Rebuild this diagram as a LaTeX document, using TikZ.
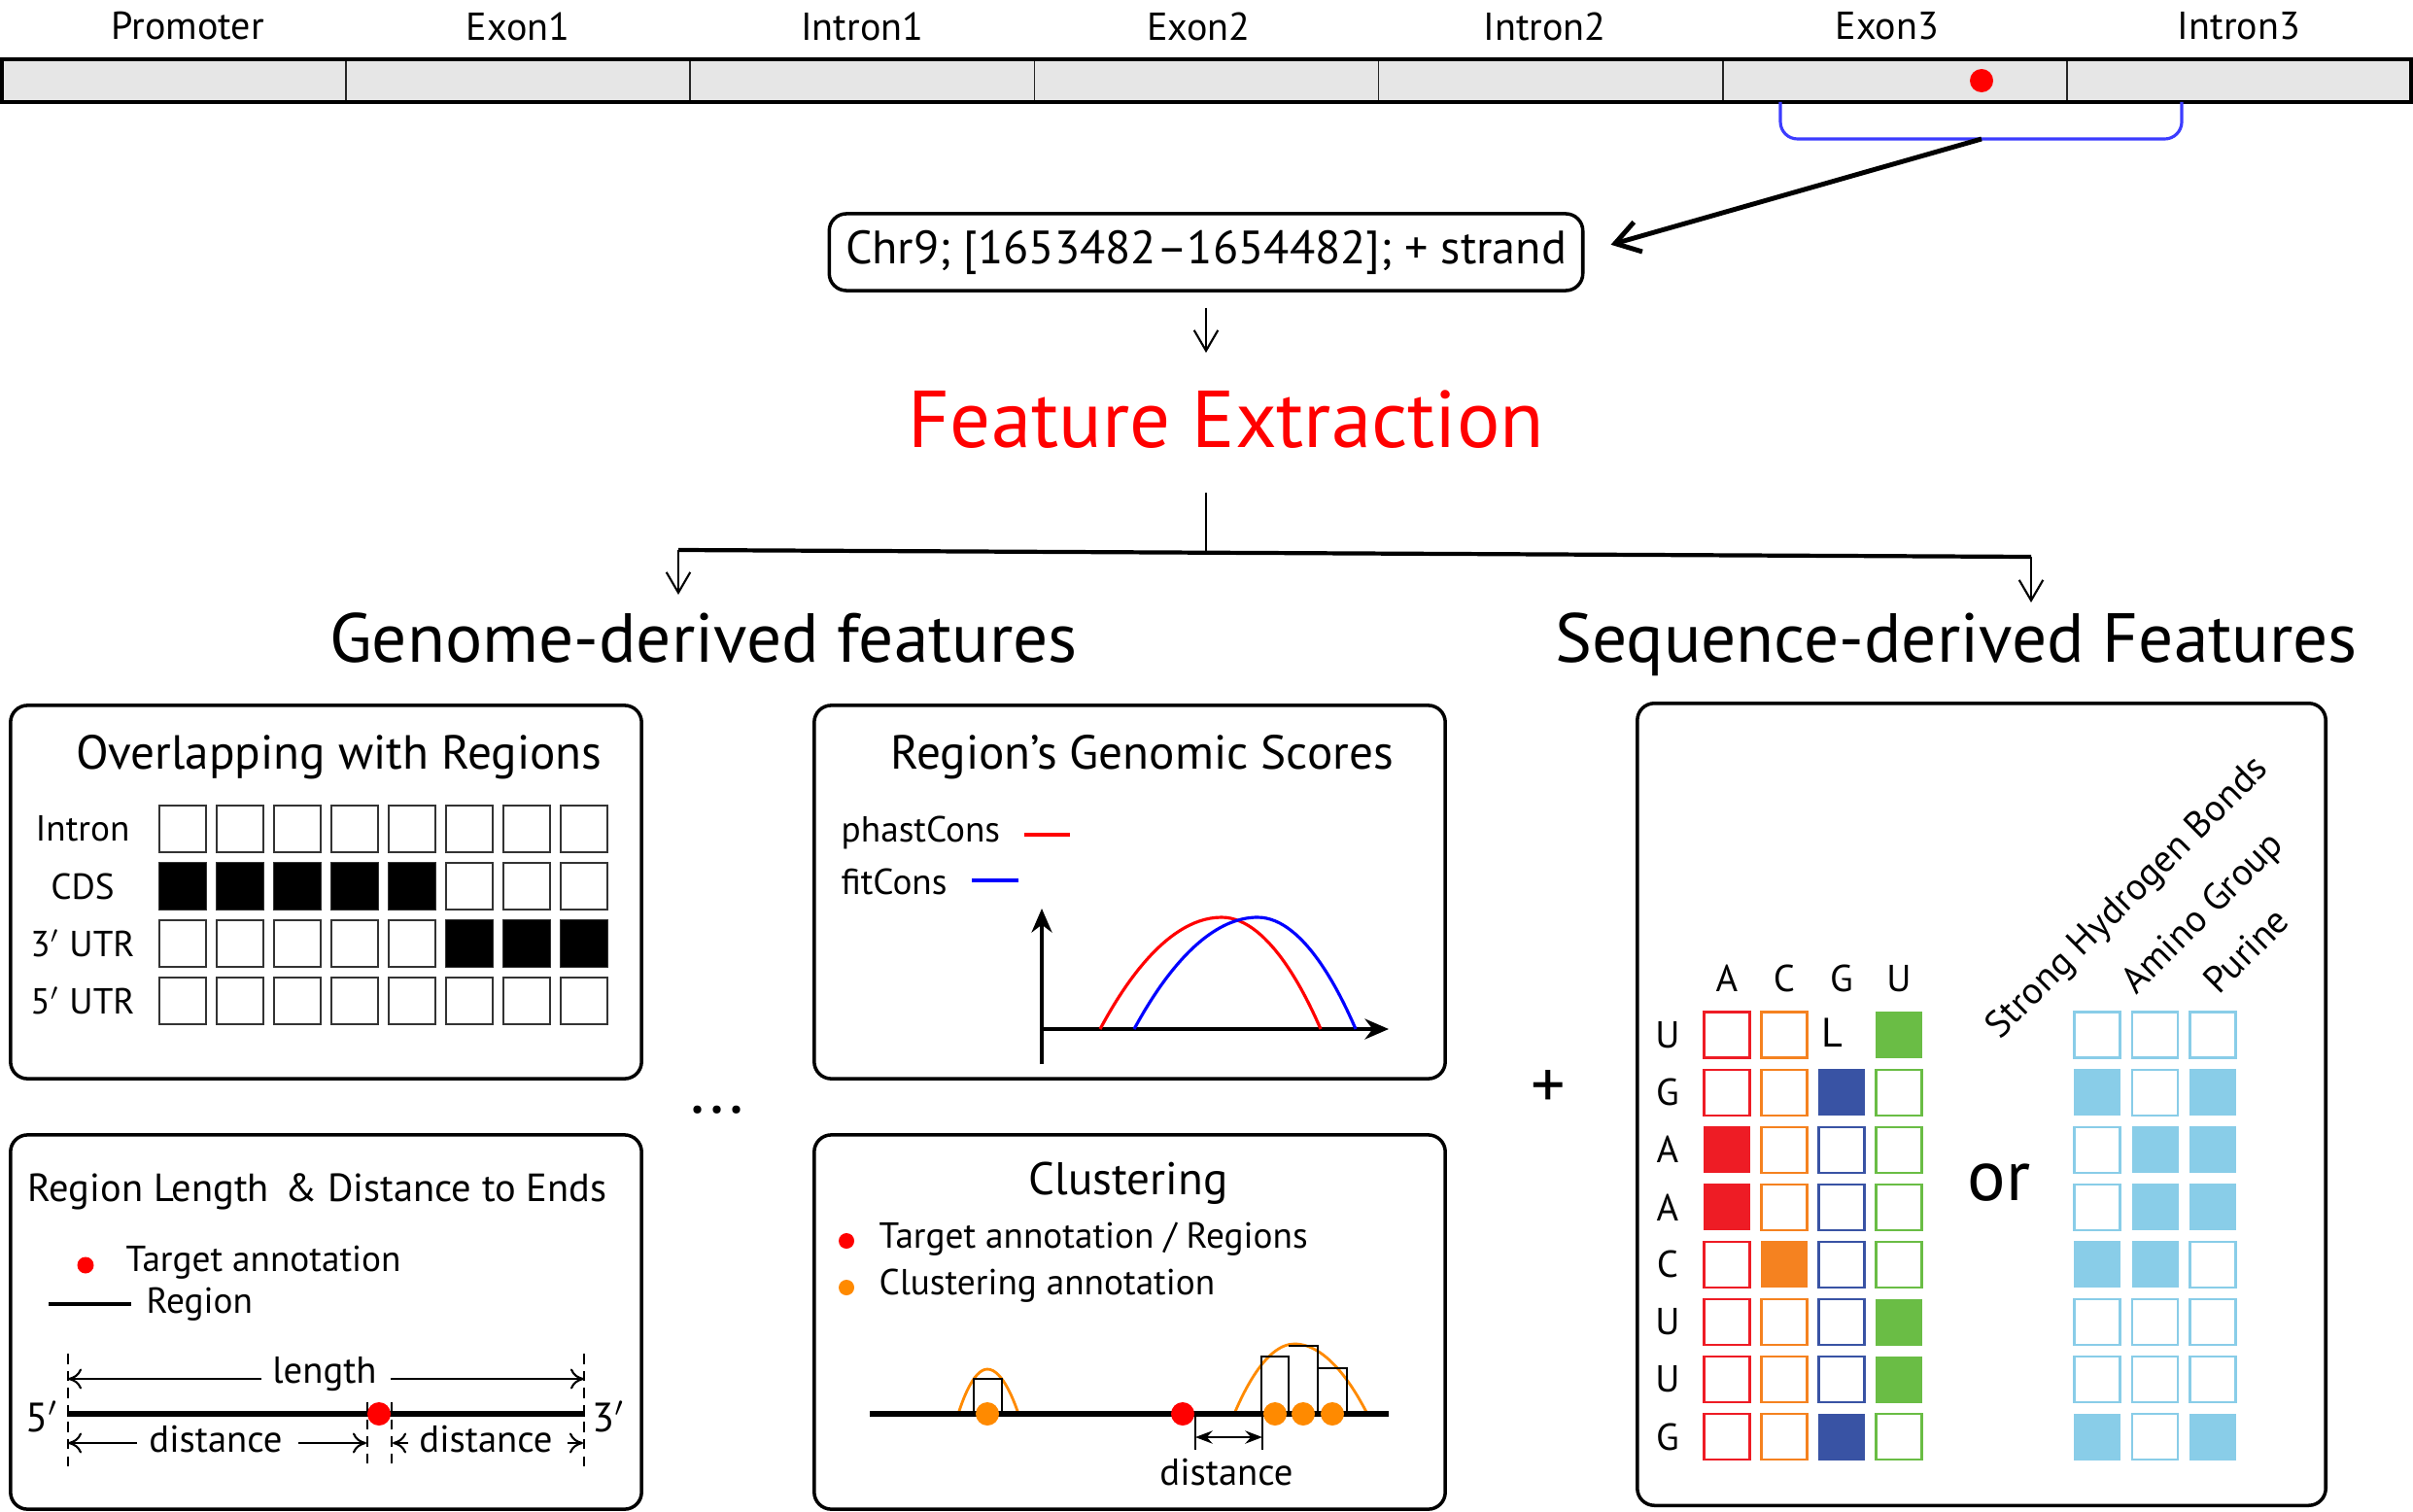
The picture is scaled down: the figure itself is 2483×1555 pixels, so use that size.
\documentclass[tikz,border=0pt]{standalone}
\usepackage{fontspec}
\setmainfont{PT Sans}
\usetikzlibrary{arrows.meta}
\definecolor{barfill}{HTML}{E6E6E6}
\definecolor{brk}{HTML}{3C3CFF}
\definecolor{tred}{HTML}{FF0000}
\definecolor{torange}{HTML}{FF8A00}
\definecolor{nucA}{HTML}{EE1C25}
\definecolor{nucC}{HTML}{F58220}
\definecolor{nucG}{HTML}{3953A4}
\definecolor{nucU}{HTML}{6ABD45}
\definecolor{prop}{HTML}{89CDE8}

\begin{document}
\begin{tikzpicture}[x=0.01cm, y=-0.01cm,
      seg/.style={draw=black!85, fill=barfill, line width=0.5pt},
      seglbl/.style={font=\fontsize{11.4}{13}\selectfont},
      chrbox/.style={draw, line width=1pt, rounded corners=5pt, inner sep=0pt,
                     minimum width=7.75cm, minimum height=0.79cm,
                     font=\fontsize{13.7}{16}\selectfont},
      arr/.style={-{Straight Barb[length=6pt, width=7pt]}, line width=0.6pt},
      bigarr/.style={-{Straight Barb[length=7pt, width=9pt]}, line width=1.4pt},
      head/.style={font=\fontsize{20.3}{24}\selectfont, anchor=base},
      panel/.style={draw, line width=1pt, rounded corners=5pt, inner sep=0pt,
                    minimum width=6.49cm, minimum height=3.84cm},
      ptitle/.style={font=\fontsize{14}{16}\selectfont},
      lbl/.style={font=\fontsize{10.6}{12}\selectfont},
      cell/.style={draw=black!80, line width=0.6pt},
      axis/.style={-{Stealth[length=7pt, width=6pt]}, line width=1pt},
      dim/.style={-{To[length=4pt, width=6pt]}, line width=0.6pt},
      tick/.style={line width=0.5pt, dash pattern=on 3pt off 2pt}]
    \useasboundingbox (0,0) rectangle (2483,1555);

    % gene structure
    \foreach \t/\dx [count=\i from 0] in {Promoter/14,Exon1/0,Intron1/0,Exon2/-8,Intron2/-6,Exon3/-8,Intron3/0} {
      \draw[seg] (2+354.14*\i,61) rectangle ++(354.14,44);
      \node[seglbl] (seg\i) at (179+354.14*\i+\dx,27) {\t};
    }
    \draw[line width=0.9pt] (2,61) rectangle (2481,105);
    \fill[tred] (2039,83) circle[radius=12];
    \draw[brk, line width=0.9pt, rounded corners=5pt] (1832,105) -- (1832,143) -- (2245,143) -- (2245,105);
    \coordinate (pick) at (2039,143);

    \node[chrbox] (chr) at (1241,259.5) {Chr9; [1653482–1654482]; + strand};
    \draw[bigarr, shorten >=8pt] (pick) -- (chr.east);

    \coordinate (feTop) at (1241,363);
    \draw[arr, shorten <=4.5pt] (chr.south) -- (feTop);
    \node[font=\fontsize{23.6}{28}\selectfont, text=tred] (fe) at (1262,432) {Feature Extraction};

    % split into the two feature groups
    \coordinate (feBot) at (1241,507);
    \coordinate (fork) at (1241,569);
    \coordinate (gl) at (698,566);
    \coordinate (gr) at (2090,573);
    \coordinate (gTip) at (698,612);
    \coordinate (sTip) at (2090,620);
    \draw[line width=0.6pt] (feBot) -- (fork);
    \draw[line width=1.2pt] (gl) -- (gr);
    \draw[arr] (gl) -- (gTip);
    \draw[arr] (gr) -- (sTip);
    \node[head] (genome) at (724,681) {Genome-derived features};
    \node[head] (seqd) at (2013,681) {Sequence-derived Features};

    % panels
    \node[panel] (ovl) at (335.5,918) {};
    \node[panel] (gsc) at (1162.5,918) {};
    \node[panel, minimum height=3.85cm] (rlen) at (335.5,1360.5) {};
    \node[panel, minimum height=3.85cm] (clu) at (1162.5,1360.5) {};
    \node[panel, minimum width=7.08cm, minimum height=8.25cm] (seqp) at (2039,1136.5) {};
    \node[font=\fontsize{20}{24}\selectfont] (more) at (738,1142) {...};
    \node[font=\fontsize{20}{24}\selectfont] (plus) at (1593,1121) {+};

    % overlapping with regions
    \node[ptitle] (ovlT) at (349,779) {Overlapping with Regions};
    \foreach \t [count=\r from 0] in {Intron,CDS,3$'$ UTR,5$'$ UTR}
      \node[lbl] (ovlR\r) at (85,853+59*\r) {\t};
    \foreach \r in {0,...,3}
      \foreach \c in {0,...,7}
        \draw[cell] (164+59*\c,829+59*\r) rectangle ++(48,48);
    \foreach \c in {0,...,4}
      \fill (164+59*\c,888) rectangle ++(48,48);
    \foreach \c in {5,6,7}
      \fill (164+59*\c,947) rectangle ++(48,48);

    % genomic scores
    \node[ptitle] (gscT) at (1175,779) {Region’s Genomic Scores};
    \node[lbl, anchor=west, inner sep=0pt] (phast) at (865,857) {phastCons};
    \node[lbl, anchor=west, inner sep=0pt] (fitc) at (865,907) {fitCons};
    \draw[tred, line width=1.1pt] (1054,859) -- (1101,859);
    \draw[blue, line width=1.1pt] (1000,906) -- (1048,906);
    \draw[axis] (1072,1095) -- (1072,935);
    \draw[axis] (1072,1059) -- (1429,1059);
    \draw[tred, line width=0.9pt] (1132,1059) parabola bend (1257,944) (1359,1059);
    \draw[blue, line width=0.9pt] (1167,1059) parabola bend (1294,944) (1395,1059);

    % region length and distance
    \node[lbl, anchor=west, inner sep=0pt, font=\fontsize{11.5}{13}\selectfont] (rlenT) at (28,1226)
      {Region Length\hspace{0.15em} \& Distance to Ends};
    \fill[tred] (88,1302) circle[radius=8.5];
    \node[lbl, anchor=west, inner sep=0pt] (tgt) at (129,1299) {Target annotation};
    \draw[line width=1.4pt] (50,1342) -- (135,1342);
    \node[lbl, anchor=west, inner sep=0pt] (reg) at (150,1342) {Region};
    \draw[tick] (70,1393) -- (70,1513);
    \draw[tick] (601,1393) -- (601,1513);
    \draw[tick] (378,1443) -- (378,1513);
    \draw[tick] (403,1443) -- (403,1513);
    \draw[line width=1.7pt] (69,1455) -- (602,1455);
    \fill[tred] (390,1455) circle[radius=12];
    \node[lbl, font=\fontsize{12}{14}\selectfont] (five) at (43,1458) {5$'$};
    \node[lbl, font=\fontsize{12}{14}\selectfont] (three) at (626,1458) {3$'$};
    \node[lbl, font=\fontsize{11}{13}\selectfont] (len) at (334,1414) {length};
    \draw[dim] (269,1419) -- (70,1419);
    \draw[dim] (402,1419) -- (601,1419);
    \node[lbl, font=\fontsize{11}{13}\selectfont] (dl) at (222,1481) {distance};
    \draw[dim] (141,1485) -- (70,1485);
    \draw[dim] (307,1485) -- (377,1485);
    \node[lbl, font=\fontsize{11}{13}\selectfont] (dr) at (500,1481) {distance};
    \draw[dim] (420,1485) -- (404,1485);
    \draw[dim] (584,1485) -- (600,1485);

    % clustering
    \node[ptitle, font=\fontsize{13.4}{16}\selectfont] (cluT) at (1161,1218) {Clustering};
    \fill[tred] (871,1277) circle[radius=8];
    \node[lbl, anchor=west, inner sep=0pt, font=\fontsize{10.6}{13}\selectfont] (cluA) at (904,1275) {Target annotation / Regions};
    \fill[torange] (871,1325) circle[radius=8];
    \node[lbl, anchor=west, inner sep=0pt, font=\fontsize{10.6}{13}\selectfont] (cluB) at (904,1323) {Clustering annotation};
    \draw[torange, line width=0.8pt] (986,1455) parabola bend (1016,1409) (1048,1455);
    \draw[torange, line width=0.8pt] (1270,1455) parabola bend (1332,1383) (1407,1455);
    \draw[line width=0.6pt] (1002,1455) rectangle (1031,1419);
    \draw[line width=0.6pt] (1298,1455) -- (1298,1396) -- (1326,1396) -- (1326,1455)
                            (1326,1385) -- (1356,1385) -- (1356,1455)
                            (1356,1408) -- (1386,1408) -- (1386,1455);
    \draw[line width=1.7pt] (895,1455) -- (1429,1455);
    \foreach \x in {1016,1312,1341,1371}
      \fill[torange] (\x,1455) circle[radius=12];
    \fill[tred] (1217,1455) circle[radius=12];
    \draw[line width=0.5pt] (1230,1458) -- (1230,1492) (1299,1458) -- (1299,1492);
    \draw[{Stealth[length=5pt]}-{Stealth[length=5pt]}, line width=0.8pt] (1230,1479) -- (1299,1479);
    \node[lbl, font=\fontsize{11}{13}\selectfont] (cluD) at (1262,1515) {distance};

    % one-hot and property encodings
    \foreach \t [count=\c from 0] in {A,C,G,U}
      \node[lbl, font=\fontsize{11}{13}\selectfont] (hd\c) at (1777+59*\c,1007) {\t};
    \foreach \r/\n [count=\k from 0] in {0/3,1/2,2/0,3/0,4/1,5/3,6/3,7/2} {
      \node[lbl, font=\fontsize{11}{13}\selectfont] (nt\k) at (1716,1065+59.1*\r)
        {\ifcase\n A\or C\or G\or U\fi};
      \foreach \c/\col in {0/nucA,1/nucC,2/nucG,3/nucU} {
        \pgfmathtruncatemacro{\hole}{(\r==0)&&(\c==2)}
        \ifnum\hole=0
          \ifnum\c=\n
            \fill[\col] (1753+59*\c,1041+59.1*\r) rectangle ++(48,48);
          \else
            \draw[\col, line width=0.6pt] (1753.5+59*\c,1041.5+59.1*\r) rectangle ++(47,47);
          \fi
        \fi
      }
    }
    \node[lbl, font=\fontsize{12}{13}\selectfont] (gap) at (1885,1063) {L};
    \node[font=\fontsize{21}{24}\selectfont] (orw) at (2057,1217) {or};
    \foreach \r/\bits in {0/{0,0,0},1/{1,0,1},2/{0,1,1},3/{0,1,1},4/{1,1,0},5/{0,0,0},6/{0,0,0},7/{1,0,1}}
      \foreach \v [count=\c from 0] in \bits {
        \ifnum\v=1
          \fill[prop] (2134+59.5*\c,1041+59.1*\r) rectangle ++(48,48);
        \else
          \draw[prop, line width=0.6pt] (2134.5+59.5*\c,1041.5+59.1*\r) rectangle ++(47,47);
        \fi
      }
    \node[lbl, rotate=45, font=\fontsize{11}{13}\selectfont] (shb) at (2190,925) {Strong Hydrogen Bonds};
    \node[lbl, rotate=45, font=\fontsize{11}{13}\selectfont] (amg) at (2268,941) {Amino Group};
    \node[lbl, rotate=45, font=\fontsize{11}{13}\selectfont] (pur) at (2311,978) {Purine};
  \end{tikzpicture}
\end{document}
